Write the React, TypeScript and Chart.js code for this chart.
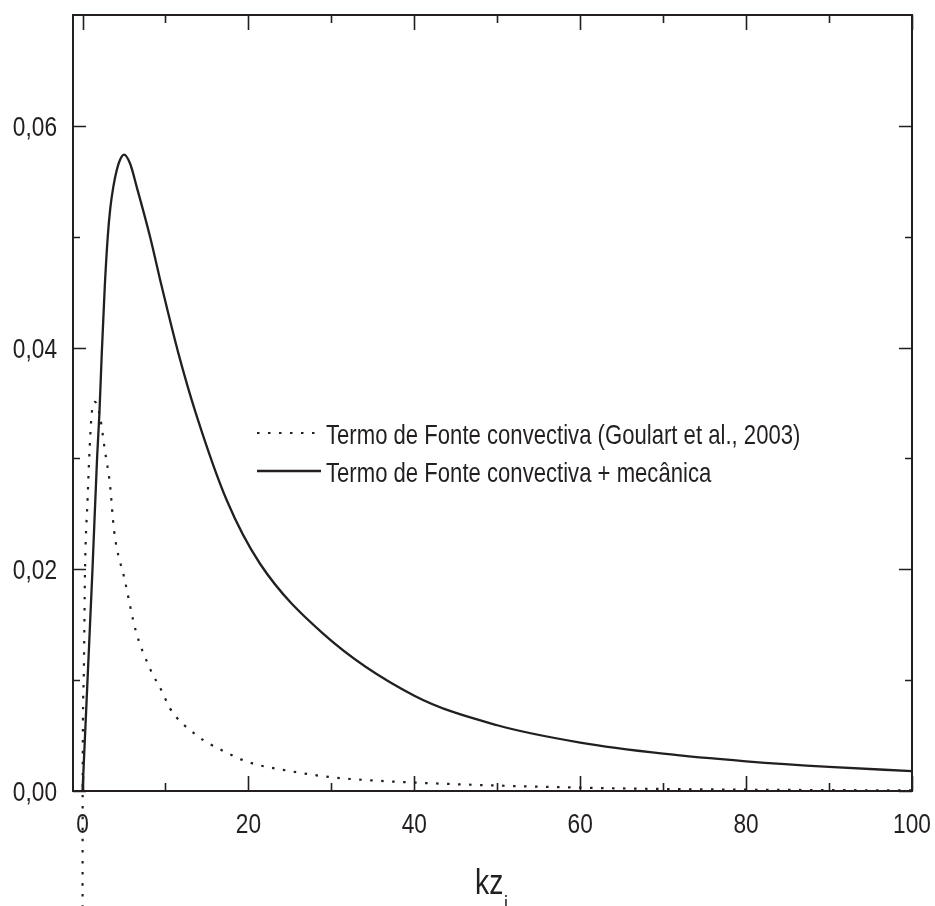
import React, { useEffect, useRef } from "react";
import { Chart, registerables } from "chart.js";

Chart.register(...registerables);

// ---- data ----
const CONV_X = [0.0, 0.02, 0.14, 0.3, 0.62, 0.8, 1.1, 1.5, 2.1, 2.7, 3.3, 3.8, 5.1, 6.4, 8.1, 9.7, 10.5, 13.8, 17, 20, 25, 30, 35, 40, 50, 60, 70, 80, 90, 100];
const CONV_Y = [-0.0115, 0.0019, 0.01, 0.0199, 0.0265, 0.03, 0.034, 0.0351, 0.0338, 0.0307, 0.0277, 0.0235, 0.019, 0.0145, 0.0111, 0.0088, 0.0075, 0.005, 0.0036, 0.0026, 0.0018, 0.00124, 0.00095, 0.00076, 0.00049, 0.0003, 0.00018, 0.00012, 0.00008, 0.00005];

const MECH_X = [0, 0.6, 1.2, 1.75, 2.03, 2.32, 2.68, 3.04, 3.35, 3.71, 4.12, 4.5, 5.0, 5.73, 6.53, 8.14, 9.55, 11.55, 13.69, 17.4, 21.4, 29.0, 40, 50, 60, 70, 80, 90, 100];
const MECH_Y = [0, 0.01, 0.02, 0.03, 0.034, 0.0395, 0.0455, 0.05, 0.0526, 0.0545, 0.056, 0.0569, 0.0574, 0.0566, 0.0545, 0.05, 0.0455, 0.0395, 0.034, 0.0262, 0.0205, 0.0142, 0.0086, 0.00593, 0.00437, 0.00337, 0.00268, 0.00217, 0.0018];

const SERIES_LABELS = [
  "Termo de Fonte convectiva (Goulart et al., 2003)",
  "Termo de Fonte convectiva + mecânica",
];

const X_TICKS = [0, 20, 40, 60, 80, 100];
const X_MINOR = [10, 30, 50, 70, 90];
const Y_TICKS = [0, 0.02, 0.04, 0.06];
const Y_MINOR = [0.01, 0.03, 0.05];
const X_TITLE = "kz";
const X_TITLE_SUB = "i";

const FONT = '"Liberation Sans", Arial, Helvetica, sans-serif';
const INK = "#231f20";
const SX = 0.81; // horizontal compression of all lettering in the reference

const fmtX = (v: number) => String(v);
const fmtY = (v: number) => v.toFixed(2).replace(".", ",");

function squeezedText(ctx: CanvasRenderingContext2D, text: string, x: number, y: number, align: CanvasTextAlign) {
  ctx.save();
  ctx.translate(x, y);
  ctx.scale(SX, 1);
  ctx.textAlign = align;
  ctx.textBaseline = "alphabetic";
  ctx.fillText(text, 0, 0);
  ctx.restore();
}

const framePlugin = {
  id: "frameTicks",
  afterDraw(chart: any) {
    const { ctx, chartArea: a, scales } = chart;
    const xs = scales.x;
    const ys = scales.y;
    ctx.save();
    ctx.strokeStyle = INK;
    ctx.lineWidth = 2;
    ctx.strokeRect(a.left, a.top, a.right - a.left, a.bottom - a.top);
    ctx.lineWidth = 1.6;
    const vt = (vals: number[], len: number) => {
      vals.forEach((v) => {
        const px = Math.round(xs.getPixelForValue(v)) + 0.5;
        ctx.beginPath();
        ctx.moveTo(px, a.bottom);
        ctx.lineTo(px, a.bottom - len);
        ctx.moveTo(px, a.top);
        ctx.lineTo(px, a.top + len);
        ctx.stroke();
      });
    };
    const ht = (vals: number[], len: number) => {
      vals.forEach((v) => {
        const py = Math.round(ys.getPixelForValue(v)) + 0.5;
        ctx.beginPath();
        ctx.moveTo(a.left, py);
        ctx.lineTo(a.left + len, py);
        ctx.moveTo(a.right, py);
        ctx.lineTo(a.right - len, py);
        ctx.stroke();
      });
    };
    vt(X_TICKS, 15);
    vt(X_MINOR, 8);
    ht(Y_TICKS, 13);
    ht(Y_MINOR, 7);

    // tick labels, placed by the chart's scales
    ctx.fillStyle = INK;
    ctx.font = `28px ${FONT}`;
    xs.ticks.forEach((t: any) => {
      squeezedText(ctx, fmtX(t.value), xs.getPixelForValue(t.value), a.bottom + 42, "center");
    });
    ys.ticks.forEach((t: any) => {
      squeezedText(ctx, fmtY(t.value), a.left - 16, ys.getPixelForValue(t.value) + 10, "right");
    });

    // legend
    const rows = [433, 471];
    chart.data.datasets.forEach((ds: any, i: number) => {
      const y = rows[i];
      ctx.save();
      ctx.strokeStyle = ds.borderColor;
      ctx.lineWidth = ds.borderWidth;
      ctx.setLineDash(ds.borderDash || []);
      ctx.beginPath();
      ctx.moveTo(257, y);
      ctx.lineTo(321, y);
      ctx.stroke();
      ctx.restore();
      ctx.fillStyle = INK;
      ctx.font = `27.3px ${FONT}`;
      squeezedText(ctx, ds.label, 326, y + 11, "left");
    });

    // x axis title with subscript
    ctx.fillStyle = INK;
    ctx.font = `35px ${FONT}`;
    squeezedText(ctx, X_TITLE, 475, 894, "left");
    ctx.font = `22px ${FONT}`;
    squeezedText(ctx, X_TITLE_SUB, 504, 911, "left");
    ctx.restore();
  },
};

export default function App() {
  const ref = useRef<HTMLCanvasElement | null>(null);
  useEffect(() => {
    if (!ref.current) return;
    const toPts = (xs: number[], ys: number[]) => xs.map((x, i) => ({ x, y: ys[i] }));
    const chart = new Chart(ref.current, {
      type: "line",
      data: {
        datasets: [
          {
            label: SERIES_LABELS[0],
            data: toPts(CONV_X, CONV_Y),
            borderColor: INK,
            borderWidth: 2.2,
            borderDash: [2.5, 8.5],
            pointRadius: 0,
            cubicInterpolationMode: "monotone",
            clip: false as any,
            fill: false,
          },
          {
            label: SERIES_LABELS[1],
            data: toPts(MECH_X, MECH_Y),
            borderColor: INK,
            borderWidth: 2.3,
            pointRadius: 0,
            cubicInterpolationMode: "monotone",
            fill: false,
          },
        ],
      },
      options: {
        responsive: false,
        animation: false,
        devicePixelRatio: 1,
        layout: { padding: { top: 15, right: 23, left: 0, bottom: 0 } },
        plugins: { legend: { display: false }, tooltip: { enabled: false } },
        scales: {
          x: {
            type: "linear",
            min: -1.15,
            max: 100,
            grid: { display: false, drawTicks: false },
            border: { display: false },
            afterBuildTicks: (s: any) => {
              s.ticks = X_TICKS.map((v) => ({ value: v }));
            },
            afterFit: (s: any) => {
              s.height = 115;
            },
            ticks: { display: false, autoSkip: false },
          },
          y: {
            type: "linear",
            min: 0,
            max: 0.07,
            grid: { display: false, drawTicks: false },
            border: { display: false },
            afterBuildTicks: (s: any) => {
              s.ticks = Y_TICKS.map((v) => ({ value: v }));
            },
            afterFit: (s: any) => {
              s.width = 73;
            },
            ticks: { display: false, autoSkip: false },
          },
        },
      },
      plugins: [framePlugin],
    });
    return () => chart.destroy();
  }, []);
  return (
    <div style={{ position: "absolute", left: 0, top: 0, width: 935, height: 906, background: "#fff" }}>
      <canvas ref={ref} width={935} height={906} />
    </div>
  );
}
